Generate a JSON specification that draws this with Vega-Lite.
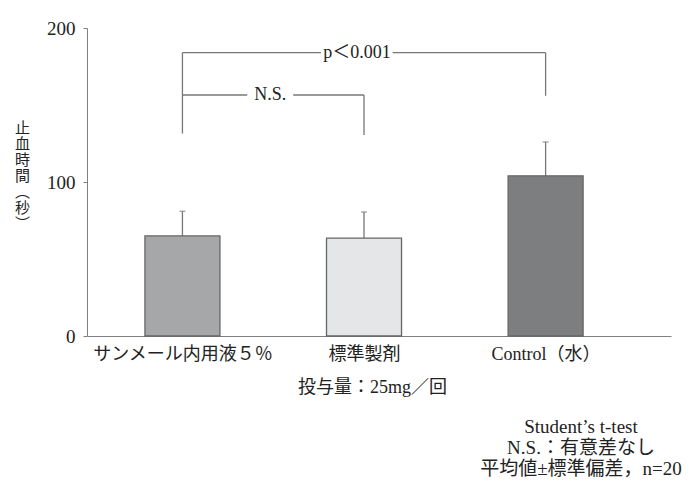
{
  "$schema": "https://vega.github.io/schema/vega-lite/v6.json",
  "autosize": {"type": "none"},
  "padding": {"left": 87, "top": 28, "right": 25, "bottom": 147},
  "width": 584,
  "height": 308,
  "background": "white",
  "config": {
    "view": {"stroke": null},
    "font": "Liberation Serif, Noto Sans CJK JP",
    "axis": {"labelFont": "Liberation Serif, Noto Sans CJK JP", "titleFont": "Liberation Serif, Noto Sans CJK JP", "labelColor": "#222", "titleColor": "#222", "domainColor": "#808080", "tickColor": "#808080", "grid": false, "titleFontWeight": "normal"}
  },
  "title": {
    "text": ["Student’s t-test", "N.S.：有意差なし", "平均値±標準偏差，n=20"],
    "orient": "bottom",
    "anchor": "end",
    "align": "center",
    "dx": -90,
    "offset": 22,
    "fontSize": 19,
    "fontWeight": "normal",
    "color": "#222",
    "lineHeight": 21,
    "font": "Liberation Serif, Noto Sans CJK JP"
  },
  "datasets": {
    "bars": [
      {"pos": 1, "label": "サンメール内用液５％", "mean": 65, "upper": 81},
      {"pos": 2, "label": "標準製剤", "mean": 63.5, "upper": 80.5},
      {"pos": 3, "label": "Control（水）", "mean": 104, "upper": 126}
    ],
    "brackets": [
      {"x": 1, "x2": 1, "y": 131.5, "y2": 184},
      {"x": 1, "x2": 1.763, "y": 184, "y2": 184},
      {"x": 2.158, "x2": 3, "y": 184, "y2": 184},
      {"x": 3, "x2": 3, "y": 156, "y2": 184},
      {"x": 1, "x2": 1.357, "y": 156.5, "y2": 156.5},
      {"x": 1.61, "x2": 2, "y": 156.5, "y2": 156.5},
      {"x": 2, "x2": 2, "y": 130.5, "y2": 156.5}
    ],
    "notes": [
      {"x": 1.961, "y": 184, "text": "p＜0.001"},
      {"x": 1.484, "y": 156.5, "text": "N.S."}
    ]
  },
  "layer": [
    {
      "data": {"name": "bars"},
      "mark": {"type": "rule", "color": "#777", "strokeWidth": 1.3},
      "encoding": {
        "x": {"field": "pos", "type": "quantitative", "scale": {"domain": [0.502, 3.663], "nice": false, "zero": false},
          "axis": {"values": [1, 2, 3], "ticks": false, "labelPadding": 9, "labelFontSize": 18,
            "labelExpr": "datum.value == 1 ? 'サンメール内用液５％' : datum.value == 2 ? '標準製剤' : 'Control（水）'",
            "title": "投与量：25mg／回", "titleFontSize": 18, "titlePadding": 15, "titleX": 285}},
        "y": {"field": "mean", "type": "quantitative", "scale": {"domain": [0, 200], "nice": false},
          "axis": {"values": [0, 100, 200], "tickSize": 4, "labelPadding": 8, "labelFontSize": 19,
            "title": ["止", "血", "時", "間", "︵", "秒", "︶"], "titleAngle": 0, "titleAlign": "center", "titleBaseline": "top",
            "titleX": -65, "titleY": 92, "titleFontSize": 15, "titleLineHeight": 16}},
        "y2": {"field": "upper"}
      }
    },
    {
      "data": {"name": "bars"},
      "mark": {"type": "tick", "orient": "horizontal", "size": 6, "thickness": 1.3, "color": "#777"},
      "encoding": {
        "x": {"field": "pos", "type": "quantitative"},
        "y": {"field": "upper", "type": "quantitative"}
      }
    },
    {
      "data": {"name": "bars"},
      "mark": {"type": "bar", "size": 75, "stroke": "#666", "strokeWidth": 1.3},
      "encoding": {
        "x": {"field": "pos", "type": "quantitative"},
        "y": {"field": "mean", "type": "quantitative"},
        "color": {"field": "label", "type": "nominal", "legend": null,
          "scale": {"domain": ["サンメール内用液５％", "標準製剤", "Control（水）"], "range": ["#a6a7a9", "#e5e6e7", "#7d7e80"]}}
      }
    },
    {
      "data": {"name": "brackets"},
      "mark": {"type": "rule", "color": "#777", "strokeWidth": 1.3},
      "encoding": {
        "x": {"field": "x", "type": "quantitative"},
        "x2": {"field": "x2"},
        "y": {"field": "y", "type": "quantitative"},
        "y2": {"field": "y2"}
      }
    },
    {
      "data": {"name": "notes"},
      "mark": {"type": "text", "fontSize": 18, "color": "#222", "baseline": "middle", "align": "center"},
      "encoding": {
        "x": {"field": "x", "type": "quantitative"},
        "y": {"field": "y", "type": "quantitative"},
        "text": {"field": "text"}
      }
    }
  ]
}
